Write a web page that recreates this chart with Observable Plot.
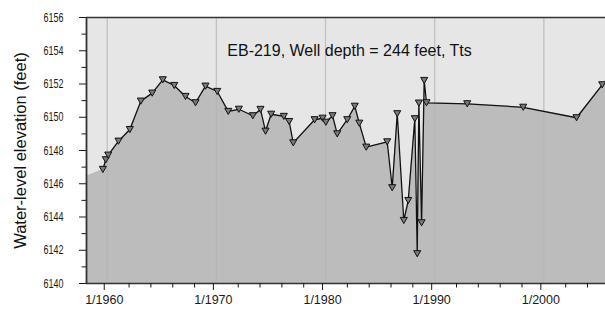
<!DOCTYPE html>
<html>
<head>
<meta charset="utf-8">
<script src="https://cdn.jsdelivr.net/npm/d3@7"></script>
<script src="https://cdn.jsdelivr.net/npm/@observablehq/plot@0.6"></script>
<style>
  html, body { margin: 0; padding: 0; background: #fff; }
</style>
</head>
<body>
<script>
// ---- data ----
const years = [1959.6, 1959.87, 1960.09, 1961.03, 1962.07, 1963.08, 1964.12, 1965.09, 1966.14, 1967.17,
  1968.09, 1969.0, 1970.08, 1971.09, 1972.06, 1973.34, 1974.04, 1974.5, 1975.02, 1976.18,
  1976.67, 1977.04, 1979.0, 1979.73, 1980.03, 1980.64, 1981.07, 1981.99, 1982.68, 1983.09,
  1983.73, 1985.65, 1986.11, 1986.57, 1987.17, 1987.58, 1988.18, 1988.4, 1988.55, 1988.8,
  1989.04, 1989.25, 1992.98, 1998.11, 2003.0, 2005.35];
const levels = [6146.86, 6147.44, 6147.72, 6148.56, 6149.26, 6150.97, 6151.45, 6152.25, 6151.91, 6151.25,
  6150.87, 6151.87, 6151.55, 6150.35, 6150.48, 6150.09, 6150.47, 6149.16, 6150.18, 6150.05,
  6149.74, 6148.46, 6149.85, 6149.94, 6149.7, 6150.09, 6149.0, 6149.85, 6150.66, 6149.64,
  6148.2, 6148.52, 6145.76, 6150.21, 6143.79, 6144.99, 6149.91, 6141.79, 6150.85, 6143.65,
  6152.21, 6150.87, 6150.81, 6150.6, 6149.97, 6151.95];
// shaded area continues to the chart edges
const areaEdgeYears = [1958.1, 2005.65];
const areaEdgeLevels = [6146.45, 6152.2];

const xMajorTicks = [1960, 1970, 1980, 1990, 2000];
const xTickLabels = ["1/1960", "1/1970", "1/1980", "1/1990", "1/2000"];
const xMinorTicks = [1962, 1964, 1966, 1968, 1972, 1974, 1976, 1978, 1982, 1984, 1986, 1988,
  1992, 1994, 1996, 1998, 2002, 2004];
const yMajorTicks = [6140, 6142, 6144, 6146, 6148, 6150, 6152, 6154, 6156];
const yMinorTicks = [6141, 6143, 6145, 6147, 6149, 6151, 6153, 6155];

const title = "EB-219, Well depth = 244 feet, Tts";
const yLabel = "Water-level elevation (feet)";

// ---- build ----
const points = years.map((y, i) => ({year: y, level: levels[i]}));
const areaData = [
  {year: areaEdgeYears[0], level: areaEdgeLevels[0]},
  ...points,
  {year: areaEdgeYears[1], level: areaEdgeLevels[1]}
];
const xDomain = [1958.1, 2005.65];
const yDomain = [6140, 6156];

const downTriangle = {
  draw(ctx, size) {
    const k = Math.sqrt(size / Math.PI) / 3;
    ctx.moveTo(-3.2 * k, -2.8 * k);
    ctx.lineTo(3.2 * k, -2.8 * k);
    ctx.lineTo(0, 2.8 * k);
    ctx.closePath();
  }
};

const chart = Plot.plot({
  width: 605,
  height: 312,
  marginLeft: 86,
  marginRight: 0,
  marginTop: 17,
  marginBottom: 29,
  style: {fontFamily: "'Liberation Sans', Arial, sans-serif", fontSize: "12.5px", color: "#1a1a1a", background: "#fff"},
  x: {domain: xDomain},
  y: {domain: yDomain},
  marks: [
    Plot.frame({fill: "#e6e6e6", stroke: null}),
    Plot.ruleX(xMajorTicks, {stroke: "#cdcdcd", strokeWidth: 1.2}),
    Plot.areaY(areaData, {x: "year", y1: yDomain[0], y2: "level", fill: "#bcbcbc"}),
    Plot.ruleX(xMajorTicks, {stroke: "#a8a8a8", strokeOpacity: 0.35, strokeWidth: 1.2}),
    Plot.line(points, {x: "year", y: "level", stroke: "#111", strokeWidth: 1.3}),
    Plot.dot(points, {x: "year", y: "level", symbol: downTriangle, r: 3.3, fill: "#7a7a7a", stroke: "#111", strokeWidth: 1}),
    Plot.ruleY([yDomain[1]], {stroke: "#333", strokeWidth: 1.4}),
    Plot.ruleY([yDomain[0]], {stroke: "#333", strokeWidth: 1.4}),
    Plot.ruleX([xDomain[0]], {stroke: "#333", strokeWidth: 1.8}),
    Plot.axisY({ticks: yMajorTicks, tickSize: 7, tickPadding: 16, label: null, fontSize: 13,
      tickFormat: d => String(d)}),
    Plot.axisY({ticks: yMinorTicks, tickSize: 4.5, tickFormat: () => "", label: null}),
    Plot.axisX({ticks: xMajorTicks, tickSize: 7, tickPadding: 5, label: null, fontSize: 12.5, dx: -3,
      tickFormat: d => xTickLabels[xMajorTicks.indexOf(d)]}),
    Plot.axisX({ticks: xMinorTicks, tickSize: 4.5, tickFormat: () => "", label: null}),
    Plot.text([title], {text: d => d, frameAnchor: "top", dx: 3.5, dy: 33, lineAnchor: "middle", fontSize: 16, fill: "#111"}),
    Plot.text([yLabel], {text: d => d, frameAnchor: "left", textAnchor: "middle", lineAnchor: "middle",
      dx: -65.5, rotate: -90, fontSize: 16.5, fill: "#111"})
  ]
});

// y tick labels in the reference are set in a narrow face
chart.querySelectorAll("text").forEach(t => {
  if (/^61\d\d$/.test(t.textContent.trim())) {
    t.setAttribute("textLength", "20");
    t.setAttribute("lengthAdjust", "spacingAndGlyphs");
  }
});

document.body.append(chart);
</script>
</body>
</html>
